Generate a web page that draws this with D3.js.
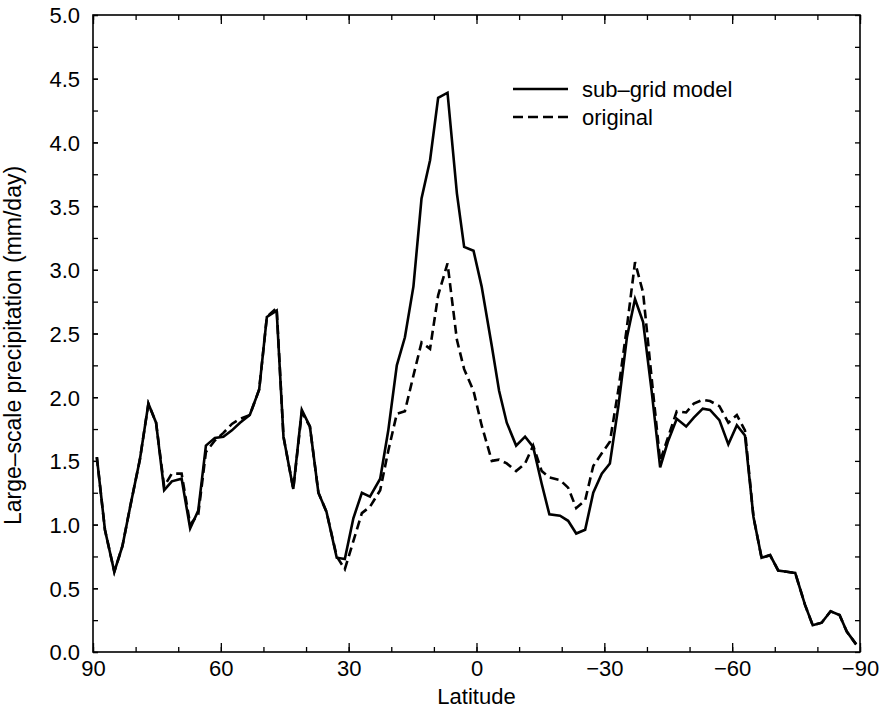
<!DOCTYPE html>
<html>
<head>
<meta charset="utf-8">
<script src="https://cdnjs.cloudflare.com/ajax/libs/d3/7.8.5/d3.min.js"></script>
<style>
    body { margin: 0; background: #fff; }
    #chart text { font-family: "Liberation Sans", Arial, Helvetica, sans-serif; fill: #000; }
</style>
</head>
<body>
<div id="chart"></div>
<script>
// latitude of each model row (deg)
const latitudes = [
    89.1, 87.2, 85.0, 83.1, 81.1, 79.0, 77.0, 75.2, 73.3, 71.5,
    69.2, 67.2, 65.3, 63.5, 61.4, 59.4, 57.4, 55.5, 53.2, 51.0,
    49.2, 46.9, 45.3, 43.0, 41.0, 39.1, 37.1, 35.2, 32.8, 30.9,
    28.9, 26.9, 25.0, 22.6, 20.7, 18.7, 16.8, 14.8, 12.9, 10.9,
    9.0, 6.8, 4.6, 2.9, 0.7, -1.2, -3.6, -5.3, -7.1, -9.3,
    -11.4, -13.3, -15.3, -17.1, -19.6, -21.5, -23.4, -25.5, -27.4, -29.4,
    -31.3, -33.3, -35.3, -37.2, -39.1, -41.1, -43.1, -44.9, -47.0, -49.2,
    -51.0, -53.1, -54.8, -57.0, -59.1, -61.1, -63.0, -65.0, -66.9, -68.9,
    -70.8, -72.8, -74.8, -77.1, -78.9, -81.0, -83.1, -85.2, -86.9, -89.1
];

// large-scale precipitation (mm/day)
const subgridModel = [
    1.53, 0.96, 0.63, 0.83, 1.17, 1.51, 1.95, 1.80, 1.27, 1.34,
    1.36, 0.97, 1.11, 1.62, 1.68, 1.69, 1.74, 1.80, 1.86, 2.06,
    2.63, 2.68, 1.69, 1.28, 1.90, 1.77, 1.25, 1.10, 0.74, 0.73,
    1.05, 1.25, 1.22, 1.36, 1.74, 2.25, 2.47, 2.87, 3.56, 3.86,
    4.35, 4.39, 3.60, 3.18, 3.15, 2.87, 2.40, 2.05, 1.80, 1.62,
    1.69, 1.61, 1.32, 1.08, 1.07, 1.03, 0.93, 0.96, 1.25, 1.40,
    1.48, 1.93, 2.47, 2.77, 2.59, 2.05, 1.45, 1.65, 1.83, 1.77,
    1.84, 1.91, 1.90, 1.82, 1.63, 1.78, 1.70, 1.06, 0.74, 0.76,
    0.64, 0.63, 0.62, 0.37, 0.21, 0.23, 0.32, 0.29, 0.16, 0.06
];

const original = [
    1.53, 0.96, 0.63, 0.83, 1.17, 1.51, 1.95, 1.80, 1.30, 1.40,
    1.40, 1.00, 1.08, 1.57, 1.66, 1.72, 1.79, 1.83, 1.86, 2.06,
    2.63, 2.70, 1.69, 1.28, 1.88, 1.77, 1.25, 1.10, 0.75, 0.65,
    0.87, 1.09, 1.14, 1.27, 1.58, 1.87, 1.89, 2.17, 2.43, 2.38,
    2.80, 3.05, 2.45, 2.22, 2.05, 1.78, 1.50, 1.51, 1.48, 1.42,
    1.48, 1.62, 1.42, 1.37, 1.35, 1.29, 1.13, 1.19, 1.46, 1.56,
    1.65, 2.06, 2.55, 3.06, 2.82, 2.15, 1.50, 1.68, 1.89, 1.88,
    1.95, 1.98, 1.97, 1.93, 1.80, 1.86, 1.74, 1.06, 0.74, 0.76,
    0.64, 0.63, 0.62, 0.37, 0.21, 0.23, 0.32, 0.29, 0.16, 0.06
];

const latTicks = [90, 60, 30, 0, -30, -60, -90];
const precipTicks = [0, 0.5, 1, 1.5, 2, 2.5, 3, 3.5, 4, 4.5, 5];

const seriesNames = ["sub–grid model", "original"];

class PrecipChart {
    constructor(parentContainer) {
        this.parentContainer = parentContainer;
        this.initVis();
    }

    initVis() {
        let vis = this;

        vis.margin = { top: 15, right: 21, bottom: 58, left: 93 };
        vis.width = 881 - vis.margin.left - vis.margin.right;
        vis.height = 710 - vis.margin.top - vis.margin.bottom;

        vis.svg = d3.select("#" + vis.parentContainer).append("svg")
            .attr("width", 881)
            .attr("height", 710)
            .append("g")
            .attr("transform", `translate(${vis.margin.left},${vis.margin.top})`);

        vis.x = d3.scaleLinear().domain([90, -90]).range([0, vis.width]);
        vis.y = d3.scaleLinear().domain([0, 5]).range([vis.height, 0]);

        vis.drawAxes();
        vis.updateVis();
        vis.createLegend();
    }

    drawAxes() {
        let vis = this;
        let minorLat = d3.range(90, -91, -10);
        let minorY = d3.range(0, 5.01, 0.25);

        // minor ticks, all four sides, pointing inward
        vis.svg.append("g")
            .attr("transform", `translate(0,${vis.height})`)
            .call(d3.axisBottom(vis.x).tickValues(minorLat).tickSize(-5).tickFormat(""));
        vis.svg.append("g")
            .call(d3.axisTop(vis.x).tickValues(minorLat).tickSize(-5).tickFormat(""));
        vis.svg.append("g")
            .call(d3.axisLeft(vis.y).tickValues(minorY).tickSize(-5).tickFormat(""));
        vis.svg.append("g")
            .attr("transform", `translate(${vis.width},0)`)
            .call(d3.axisRight(vis.y).tickValues(minorY).tickSize(-5).tickFormat(""));

        // major ticks with labels
        vis.svg.append("g")
            .attr("class", "x-axis")
            .attr("transform", `translate(0,${vis.height})`)
            .call(d3.axisBottom(vis.x).tickValues(latTicks).tickSize(-9).tickPadding(8)
                .tickFormat(d3.format("d")));
        vis.svg.append("g")
            .call(d3.axisTop(vis.x).tickValues(latTicks).tickSize(-9).tickFormat(""));
        vis.svg.append("g")
            .attr("class", "y-axis")
            .call(d3.axisLeft(vis.y).tickValues(precipTicks).tickSize(-5).tickPadding(13)
                .tickFormat(d3.format(".1f")));

        vis.svg.selectAll(".domain").remove();
        vis.svg.selectAll(".tick line").attr("stroke", "#000").attr("stroke-width", 1.3);
        vis.svg.selectAll(".x-axis text").style("font-size", "22px");
        vis.svg.selectAll(".y-axis text").style("font-size", "22px").attr("dy", "0.36em");

        // frame
        vis.svg.append("rect")
            .attr("width", vis.width)
            .attr("height", vis.height)
            .attr("fill", "none")
            .attr("stroke", "#000")
            .attr("stroke-width", 1.6);

        vis.svg.append("text")
            .attr("x", vis.width / 2)
            .attr("y", vis.height + 52)
            .attr("text-anchor", "middle")
            .style("font-size", "22px")
            .text("Latitude");

        vis.svg.append("text")
            .attr("transform", `translate(${-72},${vis.height / 2 + 12}) rotate(-90)`)
            .attr("text-anchor", "middle")
            .style("font-size", "23px")
            .text("Large–scale precipitation (mm/day)");
    }

    updateVis() {
        let vis = this;

        let line = d3.line()
            .x(d => vis.x(d[0]))
            .y(d => vis.y(d[1]));

        let series = [
            { name: seriesNames[0], values: d3.zip(latitudes, subgridModel), dash: null },
            { name: seriesNames[1], values: d3.zip(latitudes, original), dash: "9,5" }
        ];

        vis.svg.selectAll(".series")
            .data(series)
            .enter().append("path")
            .attr("class", "series")
            .attr("d", d => line(d.values))
            .attr("fill", "none")
            .attr("stroke", "#000")
            .attr("stroke-width", 2.6)
            .attr("stroke-linejoin", "miter")
            .attr("stroke-dasharray", d => d.dash);
    }

    createLegend() {
        let vis = this;

        let legend = vis.svg.append("g")
            .attr("transform", `translate(${420},${74})`);

        let legendData = [
            { label: seriesNames[0], dash: null },
            { label: seriesNames[1], dash: "10,5" }
        ];

        legend.selectAll(".legend-item")
            .data(legendData)
            .enter()
            .append("g")
            .attr("class", "legend-item")
            .attr("transform", (d, i) => `translate(0, ${i * 28})`)
            .each(function (d) {
                let item = d3.select(this);
                item.append("line")
                    .attr("x1", 0)
                    .attr("x2", 55)
                    .attr("stroke", "#000")
                    .attr("stroke-width", 2.6)
                    .attr("stroke-dasharray", d.dash);
                item.append("text")
                    .attr("x", 69)
                    .attr("y", 0)
                    .attr("dy", "0.35em")
                    .style("font-size", "22px")
                    .text(d.label);
            });
    }
}

new PrecipChart("chart");
</script>
</body>
</html>
